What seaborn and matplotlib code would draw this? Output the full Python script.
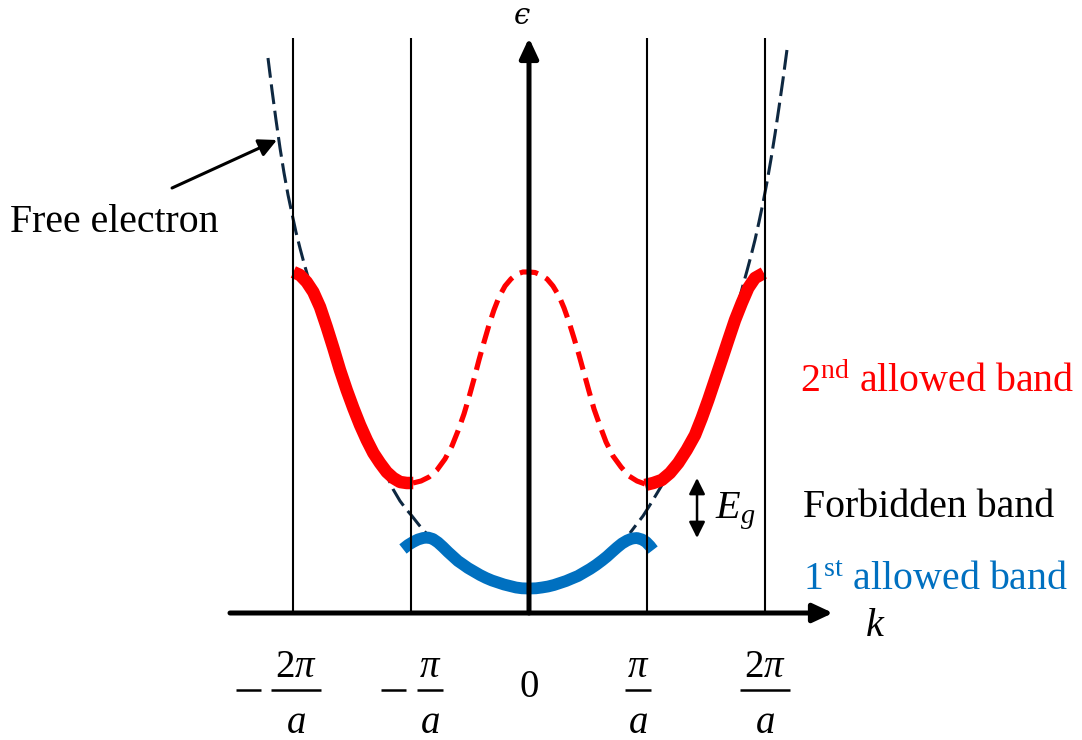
import matplotlib
matplotlib.use("Agg")
import matplotlib.pyplot as plt
import seaborn as sns

# Wave number k in units of pi/a, energy in arbitrary units
zone_edges = [-2, -1, 1, 2]
tick_pos = [-2, -1, 0, 1, 2]
tick_num = [r"$2\pi$", r"$\pi$", r"$0$", r"$\pi$", r"$2\pi$"]
tick_den = [r"$a$", r"$a$", "", r"$a$", r"$a$"]
tick_neg = [True, True, False, False, False]

# Free-electron parabola (left and right branches)
free_left_k = [-2.212, -2.178, -2.144, -2.110, -2.076, -2.042, -2.008, -1.975,
               -1.941, -1.907, -1.873, -1.839, -1.771, -1.712, -1.661, -1.602,
               -1.542, -1.492, -1.432, -1.373, -1.322, -1.263, -1.203, -1.153,
               -1.093, -1.042, -0.992, -0.932, -0.873]
free_left_e = [5.55, 5.23, 4.93, 4.65, 4.40, 4.18, 3.99, 3.81,
               3.65, 3.50, 3.36, 3.23, 3.04, 2.85, 2.65, 2.43,
               2.23, 2.05, 1.88, 1.73, 1.60, 1.48, 1.37, 1.24,
               1.12, 1.04, 0.97, 0.88, 0.80]
free_right_k = [2.186, 2.153, 2.119, 2.085, 2.051, 2.017, 1.983, 1.949,
                1.915, 1.881, 1.847, 1.814, 1.780, 1.746, 1.686, 1.636,
                1.576, 1.517, 1.466, 1.407, 1.339, 1.271, 1.195, 1.127,
                1.076, 1.025, 0.966, 0.907, 0.856]
free_right_e = [5.63, 5.34, 5.06, 4.79, 4.54, 4.31, 4.10, 3.91,
                3.73, 3.57, 3.42, 3.28, 3.13, 2.97, 2.75, 2.53,
                2.33, 2.13, 1.95, 1.78, 1.63, 1.50, 1.39, 1.28,
                1.18, 1.08, 0.97, 0.88, 0.80]

# 1st allowed band (reduced zone)
band1_k = [-1.068, -1.025, -0.983, -0.941, -0.898, -0.856, -0.814, -0.771,
           -0.729, -0.686, -0.644, -0.602, -0.559, -0.517, -0.466, -0.415,
           -0.364, -0.314, -0.263, -0.212, -0.161, -0.110, -0.059, 0.000,
           0.059, 0.110, 0.161, 0.212, 0.263, 0.314, 0.364, 0.415,
           0.466, 0.517, 0.568, 0.619, 0.661, 0.703, 0.746, 0.788,
           0.831, 0.873, 0.915, 0.958, 0.992, 1.025, 1.051]
band1_e = [0.640, 0.680, 0.710, 0.735, 0.750, 0.755, 0.740, 0.705,
           0.660, 0.610, 0.565, 0.520, 0.485, 0.450, 0.415, 0.380,
           0.350, 0.325, 0.305, 0.285, 0.270, 0.255, 0.247, 0.245,
           0.247, 0.255, 0.265, 0.280, 0.300, 0.320, 0.345, 0.370,
           0.405, 0.440, 0.480, 0.525, 0.565, 0.610, 0.655, 0.695,
           0.725, 0.745, 0.750, 0.735, 0.710, 0.670, 0.630]

# 2nd allowed band, extended zone (left and right)
band2_left_k = [-1.997, -1.941, -1.884, -1.828, -1.771, -1.714, -1.658, -1.602,
                -1.545, -1.489, -1.432, -1.375, -1.319, -1.263, -1.206, -1.150,
                -1.093, -1.036, -0.981]
band2_left_e = [3.41, 3.38, 3.31, 3.21, 3.06, 2.86, 2.65, 2.43,
                2.23, 2.05, 1.88, 1.73, 1.60, 1.50, 1.41, 1.35,
                1.31, 1.30, 1.30]
band2_right_k = [0.983, 1.053, 1.125, 1.195, 1.265, 1.336, 1.407, 1.464,
                 1.519, 1.576, 1.633, 1.689, 1.746, 1.803, 1.858, 1.915, 1.990]
band2_right_e = [1.28, 1.30, 1.33, 1.40, 1.50, 1.63, 1.78, 1.95,
                 2.13, 2.33, 2.53, 2.73, 2.93, 3.10, 3.25, 3.35, 3.40]

# 2nd allowed band folded into the first zone
band2_red_k = [-0.983, -0.915, -0.847, -0.780, -0.712, -0.653, -0.602, -0.551,
               -0.508, -0.466, -0.424, -0.381, -0.339, -0.297, -0.254, -0.203,
               -0.153, -0.102, -0.051, 0.000, 0.051, 0.102, 0.153, 0.203,
               0.254, 0.297, 0.339, 0.381, 0.424, 0.466, 0.508, 0.551,
               0.602, 0.653, 0.712, 0.780, 0.847, 0.915, 0.983]
band2_red_e = [1.30, 1.32, 1.36, 1.43, 1.54, 1.67, 1.82, 1.99,
               2.16, 2.34, 2.53, 2.71, 2.88, 3.03, 3.16, 3.27,
               3.34, 3.39, 3.41, 3.41, 3.405, 3.38, 3.34, 3.27,
               3.17, 3.05, 2.91, 2.75, 2.58, 2.40, 2.22, 2.04,
               1.87, 1.71, 1.57, 1.46, 1.37, 1.32, 1.29]

RED = "#FF0000"
BLUE = "#0070C0"
NAVY = "#0E2841"

sns.set_theme(style="white")
plt.rcParams["font.family"] = ["Liberation Serif", "DejaVu Serif"]
plt.rcParams["text.color"] = "black"
plt.rcParams["mathtext.fontset"] = "custom"
plt.rcParams["mathtext.rm"] = "Liberation Serif"
plt.rcParams["mathtext.it"] = "Liberation Serif:italic"
plt.rcParams["mathtext.bf"] = "Liberation Serif:bold"

fig = plt.figure(figsize=(10.82, 7.40), dpi=100)
ax = fig.add_axes([0, 0, 1, 1])
ax.set_xlim(-529 / 118, (1082 - 529) / 118)
ax.set_ylim(-1.27, 6.13)
ax.axis("off")

# free electron dispersion
for kk, ee in [(free_left_k, free_left_e), (free_right_k, free_right_e)]:
    sns.lineplot(x=kk, y=ee, ax=ax, color=NAVY, lw=2.2, sort=False,
                 estimator=None, zorder=2)
    ax.lines[-1].set_dashes((6.5, 2.2))
    ax.lines[-1].set_dash_capstyle("butt")

# folded 2nd band (dashed)
sns.lineplot(x=band2_red_k, y=band2_red_e, ax=ax, color=RED, lw=3.7,
             sort=False, estimator=None, zorder=3)
ax.lines[-1].set_dashes((3.6, 1.7))
ax.lines[-1].set_dash_capstyle("butt")

# 2nd band in extended zone
for kk, ee in [(band2_left_k, band2_left_e), (band2_right_k, band2_right_e)]:
    sns.lineplot(x=kk, y=ee, ax=ax, color=RED, lw=9, sort=False,
                 estimator=None, zorder=3, solid_capstyle="butt",
                 solid_joinstyle="round")

# 1st band
sns.lineplot(x=band1_k, y=band1_e, ax=ax, color=BLUE, lw=8.5, sort=False,
             estimator=None, zorder=3, solid_capstyle="butt",
             solid_joinstyle="round")

# Brillouin zone boundaries
ax.vlines(zone_edges, 0, 5.75, color="black", lw=1.5, zorder=5)

# axes with arrow heads
arrow_kw = dict(arrowstyle="-|>,head_length=0.6,head_width=0.28",
                mutation_scale=20, lw=3.6, color="black",
                shrinkA=0, shrinkB=0)
ax.annotate("", xy=(0, 5.75), xytext=(0, 0), arrowprops=arrow_kw, zorder=6)
ax.annotate("", xy=(2.576, 0), xytext=(-2.534, 0), arrowprops=arrow_kw, zorder=6)

ax.text(-0.059, 5.97, "\u03f5", fontsize=21, family=["DejaVu Serif"],
        style="italic", ha="center", va="center")
ax.text(2.93, -0.13, r"$k$", fontsize=29, ha="center", va="center")

# tick labels below the k axis, written as stacked fractions
label_shift = [0.025, 0.16, 0.0, -0.076, 0.0]
for pos, num, den, neg, dx in zip(tick_pos, tick_num, tick_den, tick_neg,
                                  label_shift):
    cx = pos + dx
    if not den:
        ax.text(cx, -0.84, num, fontsize=28, ha="center", va="baseline")
        continue
    wide = "2" in num
    half = 0.21 if wide else 0.107
    ax.text(cx, -0.64, num, fontsize=28, ha="center", va="baseline")
    ax.text(cx, -1.20, den, fontsize=28, ha="center", va="baseline")
    ax.plot([cx - half, cx + half], [-0.77, -0.77], color="black", lw=1.8,
            solid_capstyle="butt")
    if neg:
        mx = cx - (0.40 if wide else 0.31)
        ax.plot([mx - 0.105, mx + 0.105], [-0.77, -0.77], color="black",
                lw=1.8, solid_capstyle="butt")

# band gap marker
ax.annotate("", xy=(1.424, 1.35), xytext=(1.424, 0.75),
            arrowprops=dict(arrowstyle="<|-|>,head_length=0.6,head_width=0.3",
                            mutation_scale=16, lw=1.8, color="black",
                            shrinkA=0, shrinkB=0))
ax.text(1.576, 0.95, r"$E_g$", fontsize=29, ha="left", va="baseline")

# free electron pointer
ax.annotate("", xy=(-2.136, 4.73), xytext=(-3.025, 4.25),
            arrowprops=dict(arrowstyle="-|>,head_length=0.6,head_width=0.3",
                            mutation_scale=18, lw=2.2, color="black",
                            shrinkA=0, shrinkB=0))

FS = 28.7
ax.text(-4.40, 3.81, "Free electron", fontsize=FS, ha="left", va="baseline")
ax.text(2.297, 2.21, r"2$^{\mathrm{nd}}$ allowed band", fontsize=FS,
        color=RED, ha="left", va="baseline")
ax.text(2.322, 0.96, "Forbidden band", fontsize=FS, color="black",
        ha="left", va="baseline")
ax.text(2.322, 0.23, r"1$^{\mathrm{st}}$ allowed band", fontsize=FS,
        color=BLUE, ha="left", va="baseline")

fig.savefig("out.png", dpi=100)
